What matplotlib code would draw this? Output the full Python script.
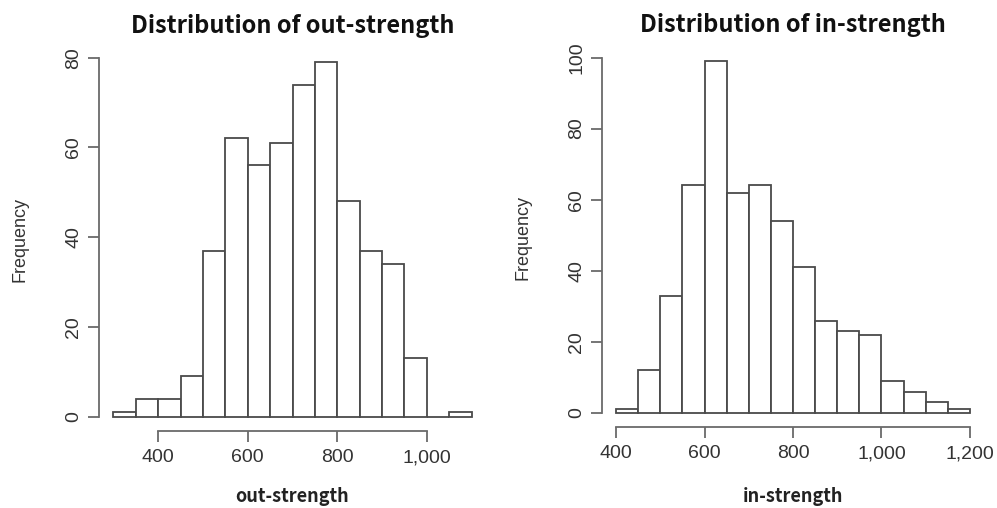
import numpy as np
import matplotlib
matplotlib.use("Agg")
import matplotlib.pyplot as plt
from matplotlib.ticker import FuncFormatter

# histogram bins (width 50) and counts
out_edges = [300, 350, 400, 450, 500, 550, 600, 650, 700, 750, 800, 850, 900, 950, 1000, 1050, 1100]
out_counts = [1, 4, 4, 9, 37, 62, 56, 61, 74, 79, 48, 37, 34, 13, 0, 1]
out_xticks = [400, 600, 800, 1000]
out_yticks = [0, 20, 40, 60, 80]

in_edges = [400, 450, 500, 550, 600, 650, 700, 750, 800, 850, 900, 950, 1000, 1050, 1100, 1150, 1200]
in_counts = [1, 12, 33, 64, 99, 62, 64, 54, 41, 26, 23, 22, 9, 6, 3, 1]
in_xticks = [400, 600, 800, 1000, 1200]
in_yticks = [0, 20, 40, 60, 80, 100]

plt.rcParams["font.family"] = ["Liberation Sans", "DejaVu Sans"]
EDGE = "#4a4a4a"
AXC = "#6a6a6a"
TXT = "#333333"

fig = plt.figure(figsize=(9.97, 5.08), dpi=100)
H = 508.0
W = 997.0


def r_hist(rect, edges, counts, xticks, yticks, title, xlabel, ylab_x, xlab_y, title_y):
    ax = fig.add_axes(rect)
    edges = np.array(edges)
    counts = np.array(counts)
    ax.bar(edges[:-1], counts, width=np.diff(edges), align="edge",
           color="white", edgecolor=EDGE, linewidth=1.3)
    # R style 4% padding
    xr = edges[-1] - edges[0]
    ax.set_xlim(edges[0] - 0.04 * xr, edges[-1] + 0.04 * xr)
    yr = counts.max()
    ax.set_ylim(-0.04 * yr, yr * 1.04)
    for s in ["top", "right"]:
        ax.spines[s].set_visible(False)
    ax.spines["left"].set_bounds(yticks[0], yticks[-1])
    ax.spines["bottom"].set_bounds(xticks[0], xticks[-1])
    for s in ["left", "bottom"]:
        ax.spines[s].set_color(AXC)
        ax.spines[s].set_linewidth(1.3)
    ax.set_xticks(xticks)
    ax.set_yticks(yticks)
    ax.xaxis.set_major_formatter(FuncFormatter(lambda v, p: f"{v:,.0f}"))
    ax.tick_params(axis="both", length=8, width=1.3, color=AXC, labelcolor=TXT,
                   labelsize=14)
    ax.tick_params(axis="x", pad=5)
    ax.tick_params(axis="y", pad=4)
    for lab in ax.get_yticklabels():
        lab.set_rotation(90)
        lab.set_va("center")
    ax.set_ylabel("Frequency", fontsize=13, color=TXT, va="center")
    ax.yaxis.set_label_coords(ylab_x, 0.5)
    ax.set_xlabel(xlabel, fontsize=13, fontweight="bold", color="#222222", va="center",
                  family=["Noto Sans CJK KR", "DejaVu Sans"])
    ax.xaxis.set_label_coords(0.5, xlab_y)
    ax.text(0.5, title_y, title, transform=ax.transAxes, ha="center", va="center",
            fontsize=17, fontweight="bold", color="#111111",
            family=["Noto Sans CJK KR", "DejaVu Sans"])
    return ax


r_hist([99 / W, (H - 431) / H, 387 / W, 383 / H], out_edges, out_counts, out_xticks, out_yticks,
       "Distribution of out-strength", "out-strength", -0.204, -0.172, 1.058)
r_hist([602 / W, (H - 427) / H, 382 / W, 380 / H], in_edges, in_counts, in_xticks, in_yticks,
       "Distribution of in-strength", "in-strength", -0.207, -0.184, 1.057)

fig.savefig("out.png", dpi=100)
